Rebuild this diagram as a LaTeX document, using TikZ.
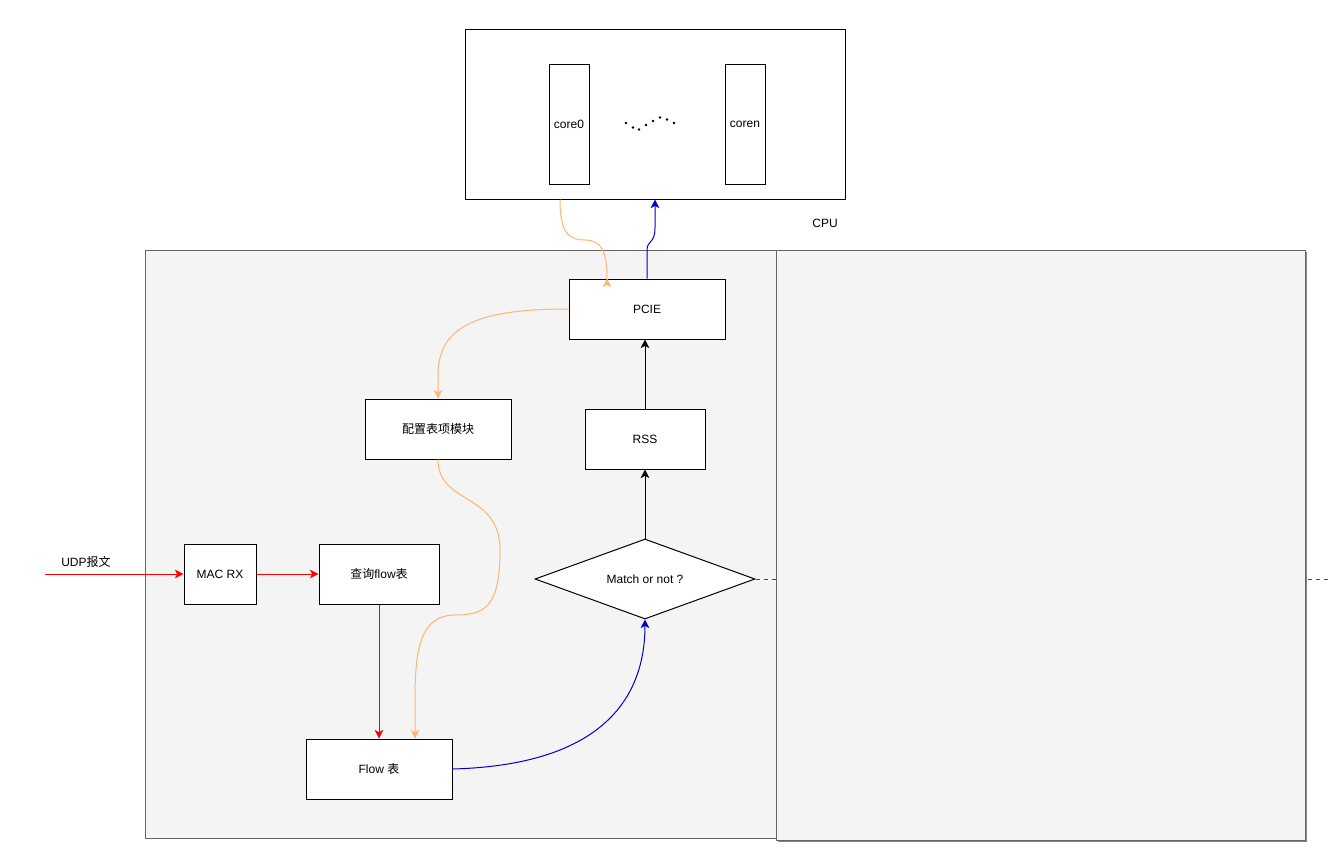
\documentclass[tikz,border=0pt]{standalone}
\usepackage{fontspec}
\setmainfont{Liberation Sans}
\newfontfamily\cjk{Noto Sans CJK SC}
\usetikzlibrary{arrows.meta,shapes.geometric}
\definecolor{panelfill}{HTML}{F4F4F4}
\definecolor{panelline}{HTML}{666666}
\definecolor{cfgline}{HTML}{FFB570}
\definecolor{dataline}{HTML}{0000CC}
\definecolor{rxline}{HTML}{FF0000}
\tikzset{
  bw/.style={minimum width=#1*0.75pt},
  bh/.style={minimum height=#1*0.75pt},
  box/.style={draw=black, fill=white, line width=0.75pt, inner sep=0pt, font=\fontsize{9}{11}\selectfont},
  panel/.style={draw=panelline, fill=panelfill, line width=0.75pt},
  tip/.style={-{Stealth[length=6.5pt,width=6.5pt,inset=1.8pt]}},
  cfgarrow/.style={tip, draw=cfgline, line width=0.75pt},
  dataarrow/.style={tip, draw=dataline, line width=0.75pt},
  rxarrow/.style={tip, draw=rxline, line width=0.75pt},
  plainarrow/.style={tip, draw=black, line width=0.75pt},
  label/.style={font=\fontsize{9}{11}\selectfont, inner sep=0pt},
  dot/.style={fill=black, circle, inner sep=0pt, minimum size=2pt}
}
\begin{document}
\begin{tikzpicture}[x=0.75pt, y=-0.75pt]
\useasboundingbox (0,0) rectangle (1329,864);

% CPU with its cores
\node[box, bw=380, bh=170] (cpu) at (655,114) {};
\node[box, bw=40, bh=120] (core0) at (569,124) {core0};
\node[box, bw=40, bh=120] (coren) at (745,124) {coren};
\foreach \px/\py [count=\i] in {626/123, 633/127.5, 639/129.5, 646/125, 653/121, 660/117.5, 667/119.5, 674/123}
  \node[dot] (d\i) at (\px,\py) {};
\node[label] (cpulabel) at (825,223) {CPU};

% FPGA panels
\node[panel, bw=631, bh=588, inner sep=0pt] (left) at (460.5,544) {};
\coordinate (dashend) at (1329,579);

% processing blocks
\node[box, bw=156, bh=60] (pcie) at (647,309) {PCIE};
\node[box, bw=120, bh=60] (rss) at (645,439) {RSS};
\node[box, bw=146, bh=60] (cfg) at (438,429) {\cjk 配置表项模块};
\node[box, bw=72, bh=60] (macrx) at (220,574) {MAC RX};
\node[box, bw=120, bh=60] (query) at (379,574) {{\cjk 查询}flow{\cjk 表}};
\node[box, bw=146, bh=60] (flow) at (379,769) {Flow {\cjk 表}};
\node[box, shape=diamond, shape aspect=2.75, bw=220, bh=80] (match) at (645,579) {Match or not ?};

% miss path leaves the diamond to the right
\draw[draw=rxline, line width=0.75pt, dash pattern=on 3pt off 3pt] (match.east) -- (dashend);

% right panel with its shadow
\fill[panelline!80] (777.5,251.5) rectangle (1306.5,841.5);
\node[panel, bw=529, bh=590, inner sep=0pt] (right) at (1040.5,545) {};

% input
\coordinate (udpin) at (45,574);
\node[label] (udp) at (86,562) {UDP{\cjk 报文}};
\draw[rxarrow] (udpin) -- (macrx.west);
\draw[rxarrow] (macrx.east) -- (query.west);
\draw[rxarrow] (query.south) -- (flow.north);

% configuration path
\draw[cfgarrow] (cpu.south -| 560,0) .. controls (560,235) and (570,240) .. (585,240)
   .. controls (602,240) and (607,252) .. (607,279) -- (pcie.north -| 607,0);
\draw[cfgarrow] (pcie.west) .. controls (480,309) and (438,325) .. (438,375) -- (cfg.north);
\draw[cfgarrow] (cfg.south) .. controls (438,505) and (500,492) .. (500,550)
   .. controls (500,608) and (484,615) .. (455,615)
   .. controls (420,615) and (415,650) .. (415,700) -- (flow.north -| 415,0);

% data path
\draw[dataarrow] (flow.east) .. controls (600,765) and (645,700) .. (match.south);
\draw[plainarrow] (match.north) -- (rss.south);
\draw[plainarrow] (rss.north) -- (pcie.south -| rss.north);
\draw[dataarrow] (pcie.north) -- (647,250) .. controls (647,240) and (655,244) .. (655,228) -- (cpu.south -| 655,0);
\end{tikzpicture}
\end{document}
